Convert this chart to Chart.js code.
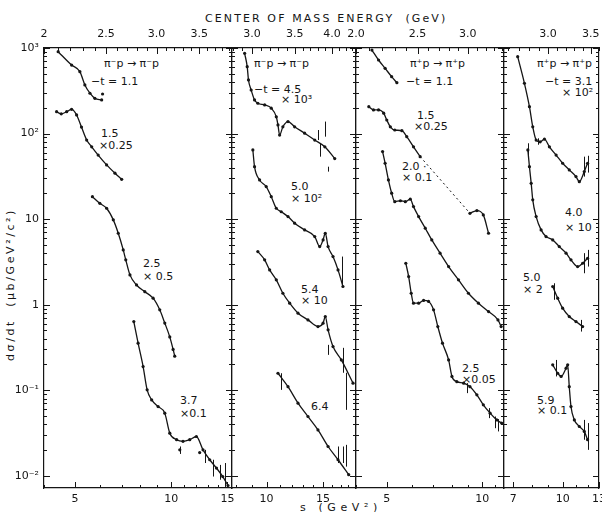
<!DOCTYPE html>
<html>
<head>
<meta charset="utf-8">
<script src="https://cdn.jsdelivr.net/npm/chart.js@4.4.1/dist/chart.umd.min.js"></script>
<style>
  html, body { margin: 0; padding: 0; background: #fff; overflow: hidden; }
  #wrap { position: relative; width: 602px; height: 512px; overflow: hidden;
          font-family: "DejaVu Sans", sans-serif; color: #151515; }
  #wrap canvas { position: absolute; left: 0; top: 0; }
  .lbl { position: absolute; font-size: 11px; line-height: 11px; white-space: nowrap; }
  .ttl { position: absolute; font-size: 11px; white-space: nowrap; }
</style>
</head>
<body>
<div id="wrap">
  <div class="ttl" style="left:205px; top:12px; letter-spacing:2.1px;">CENTER OF MASS ENERGY &nbsp;(GeV)</div>
  <div class="ttl" style="left:300px; top:501px; letter-spacing:4.6px;">s (GeV²)</div>
  <div class="ttl" style="left:-80px; top:278px; width:180px; text-align:center; letter-spacing:2.6px; transform:rotate(-90deg);">dσ/dt &nbsp;(μb/GeV²/c²)</div>

  <!-- panel 1 -->
  <div class="lbl" style="left:104px; top:58px;">π⁻p → π⁻p</div>
  <div class="lbl" style="left:91px; top:76px;">−t = 1.1</div>
  <div class="lbl" style="left:101px; top:128px;">1.5</div>
  <div class="lbl" style="left:99px; top:140px;">×0.25</div>
  <div class="lbl" style="left:143px; top:258px;">2.5</div>
  <div class="lbl" style="left:143px; top:271px;">× 0.5</div>
  <div class="lbl" style="left:180px; top:395px;">3.7</div>
  <div class="lbl" style="left:180px; top:408px;">×0.1</div>
  <!-- panel 2 -->
  <div class="lbl" style="left:254px; top:58px;">π⁻p → π⁻p</div>
  <div class="lbl" style="left:254px; top:84px;">−t = 4.5</div>
  <div class="lbl" style="left:281px; top:94px;">× 10³</div>
  <div class="lbl" style="left:291px; top:181px;">5.0</div>
  <div class="lbl" style="left:291px; top:193px;">× 10²</div>
  <div class="lbl" style="left:301px; top:284px;">5.4</div>
  <div class="lbl" style="left:301px; top:295px;">× 10</div>
  <div class="lbl" style="left:311px; top:401px;">6.4</div>
  <!-- panel 3 -->
  <div class="lbl" style="left:410px; top:58px;">π⁺p → π⁺p</div>
  <div class="lbl" style="left:406px; top:76px;">−t = 1.1</div>
  <div class="lbl" style="left:417px; top:110px;">1.5</div>
  <div class="lbl" style="left:414px; top:121px;">×0.25</div>
  <div class="lbl" style="left:402px; top:161px;">2.0 ·</div>
  <div class="lbl" style="left:402px; top:172px;">× 0.1</div>
  <div class="lbl" style="left:462px; top:363px;">2.5</div>
  <div class="lbl" style="left:462px; top:374px;">×0.05</div>
  <!-- panel 4 -->
  <div class="lbl" style="left:537px; top:58px;">π⁺p → π⁺p</div>
  <div class="lbl" style="left:545px; top:76px;">−t = 3.1</div>
  <div class="lbl" style="left:562px; top:87px;">× 10²</div>
  <div class="lbl" style="left:565px; top:207px;">4.0</div>
  <div class="lbl" style="left:565px; top:222px;">× 10</div>
  <div class="lbl" style="left:523px; top:272px;">5.0</div>
  <div class="lbl" style="left:523px; top:284px;">× 2</div>
  <div class="lbl" style="left:537px; top:395px;">5.9</div>
  <div class="lbl" style="left:537px; top:405px;">× 0.1</div>
</div>
<script>
// ---- valeurs : s (GeV^2) et dσ/dt (µb/GeV^2) ----

// pi- p -> pi- p, premier panneau
const t11S = [4.43, 4.88, 5.18, 5.37, 5.57, 5.77, 6.06];
const t11Y = [906, 632, 529, 370, 296, 258, 247];
const t15S = [4.38, 4.53, 4.71, 4.88, 5.06, 5.24, 5.44, 5.64, 5.91, 6.28, 6.67, 7.0];
const t15Y = [180, 170, 180, 192, 165, 119, 84, 70, 56, 43, 34.4, 29.2];
const t25S = [5.67, 5.98, 6.28, 6.59, 6.83, 7.08, 7.21, 7.43, 7.79, 8.27, 8.78, 9.21, 9.55, 9.90, 10.14, 10.26];
const t25Y = [18.3, 15.3, 13.4, 9.8, 6.84, 4.37, 3.34, 2.23, 1.70, 1.42, 1.19, 0.87, 0.61, 0.42, 0.30, 0.25];
const t37S = [7.64, 7.88, 8.17, 8.41, 8.69, 9.10, 9.55, 9.90, 10.4, 10.89, 11.43, 11.99, 12.58, 13.2, 13.86, 14.5, 15.06];
const t37Y = [0.635, 0.355, 0.189, 0.101, 0.077, 0.0645, 0.054, 0.0315, 0.0264, 0.0253, 0.0264, 0.0288, 0.0201, 0.0154, 0.0123, 0.0098, 0.0077];
const p1ExtraS = [6.1, 10.64, 12.28];
const p1ExtraY = [290, 0.0201, 0.0187];
const p1Err = [[12.73, 0.0141, 0.0201], [13.52, 0.0098, 0.0154], [14.19, 0.009, 0.0134], [14.71, 0.0074, 0.0141], [10.64, 0.018, 0.022]];

// pi- p -> pi- p, deuxième panneau
const a45S = [8.54, 8.70, 8.78, 8.95, 9.17, 9.39, 9.86, 10.34, 10.72, 10.85, 10.98, 11.24, 11.66, 12.23, 13.14, 14.13, 15.19, 16.31];
const a45Y = [867, 605, 423, 323, 247, 226, 216, 198, 157, 126, 96, 120, 138, 120, 101, 84, 70, 51];
const b50S = [9.06, 9.17, 9.51, 9.97, 10.34, 10.72, 11.11, 11.66, 12.23, 13.14, 14.13, 14.64, 15.0, 15.24, 15.55, 16.11, 16.7, 17.3];
const b50Y = [64.3, 41, 28.7, 24, 18.3, 13.4, 12.2, 10.7, 8.96, 7.48, 6.25, 4.77, 5.71, 6.84, 4.77, 3.65, 2.55, 1.63];
const c54S = [9.39, 9.86, 10.22, 10.72, 11.24, 11.80, 12.53, 13.46, 14.46, 15.0, 15.24, 15.55, 16.11, 17.1, 18.6];
const c54Y = [4.17, 3.34, 2.55, 1.95, 1.36, 1.04, 0.796, 0.664, 0.555, 0.608, 0.726, 0.508, 0.324, 0.226, 0.121];
const d64S = [10.85, 11.66, 12.53, 13.46, 14.46, 15.55, 16.7, 18.03];
const d64Y = [0.158, 0.110, 0.0706, 0.0493, 0.0344, 0.0220, 0.0154, 0.0103];
const p2Err = [[14.46, 84, 110], [15.19, 92, 138], [15.55, 35.9, 41], [14.64, 53.7, 77], [17.2, 1.63, 3.65],
               [17.3, 0.16, 0.313], [17.7, 0.059, 0.16], [15.55, 0.259, 0.339], [11.1, 0.101, 0.158],
               [16.7, 0.0141, 0.022], [17.7, 0.0128, 0.023], [17.3, 0.0141, 0.022]];

// pi+ p -> pi+ p, troisième panneau
const e11S = [4.49, 4.71, 4.94, 5.18, 5.38];
const e11Y = [946, 724, 579, 462, 393];
const f15S = [4.39, 4.54, 4.71, 4.89, 5.0, 5.13, 5.30, 5.58, 5.78, 6.07, 6.37];
const f15Y = [206, 189, 189, 173, 144, 120, 110, 108, 92, 70, 53.7];
const f15DashS = [6.37, 9.14];
const f15DashY = [53.7, 11.7];
const f15bS = [9.14, 9.61, 10.07, 10.46];
const f15bY = [11.7, 12.6, 11.2, 6.84];
const g20S = [4.85, 4.94, 5.06, 5.18, 5.30, 5.52, 5.72, 5.93, 6.07, 6.30, 6.61, 6.93, 7.36, 7.83, 8.41, 9.04, 9.72, 10.46, 11.2, 11.46];
const g20Y = [61.5, 45, 28.7, 20.1, 16.0, 16.4, 16.0, 17.1, 14.0, 10.7, 7.83, 5.71, 4.0, 2.79, 1.95, 1.36, 1.04, 0.83, 0.664, 0.555];
const h25S = [5.74, 5.86, 5.97, 6.07, 6.30, 6.53, 6.77, 7.02, 7.24, 7.49, 7.83, 8.02, 8.31, 8.73, 9.14, 9.61, 10.07, 10.58, 11.1, 11.5];
const h25Y = [3.05, 2.13, 1.36, 1.04, 1.04, 1.12, 1.09, 0.87, 0.555, 0.355, 0.226, 0.145, 0.126, 0.121, 0.110, 0.0883, 0.0675, 0.054, 0.045, 0.0413];
const p3Err = [[10.97, 0.036, 0.0493], [11.2, 0.033, 0.046], [10.46, 0.0472, 0.0618], [8.93, 0.0925, 0.121]];

// pi+ p -> pi+ p, quatrième panneau
const i31S = [7.23, 7.59, 7.87, 8.06, 8.26, 8.50, 8.77, 9.09, 9.54, 10.0, 10.49, 11.01, 11.28, 11.69, 11.97];
const i31Y = [791, 387, 206, 120, 84, 80, 86, 70, 56, 45, 37.6, 31.4, 27.4, 35.9, 45];
const j40S = [7.78, 7.87, 7.97, 8.06, 8.26, 8.56, 8.87, 9.31, 9.76, 10.25, 10.62, 11.14, 11.55, 11.97];
const j40Y = [64.3, 41, 26.2, 16.8, 10.7, 7.48, 6.25, 5.71, 4.77, 4.0, 3.34, 2.79, 3.05, 3.49];
const k50S = [9.31, 9.65, 10.0, 10.49, 11.01, 11.55];
const k50Y = [1.63, 1.19, 0.91, 0.726, 0.635, 0.555];
const l59S = [9.31, 9.65, 9.89, 10.25, 10.37, 10.49, 10.62, 10.88, 11.28, 11.69, 11.97];
const l59Y = [0.198, 0.158, 0.145, 0.181, 0.198, 0.110, 0.0645, 0.045, 0.0377, 0.033, 0.0264];
const p4Err = [[11.69, 31.4, 53.7], [11.97, 35, 55], [8.35, 74, 88], [7.78, 53.7, 77], [11.69, 2.33, 4.0],
               [11.97, 2.79, 4.37], [9.42, 1.14, 1.78], [11.4, 0.485, 0.664], [9.54, 0.145, 0.226],
               [11.69, 0.0264, 0.045], [11.97, 0.0201, 0.0413]];

// ---- axes ----
const yMajor = [0.01, 0.1, 1, 10, 100, 1000];
const yMajorLabels = ['10⁻²', '10⁻¹', '1', '10', '10²', '10³'];
const yMinorMult = [2, 3, 4, 5, 6, 7, 8, 9];

const INK = '#151515';
const FONT = '"DejaVu Sans", sans-serif';
const Y_MIN = 0.0072, Y_MAX = 1000;

const panels = [
    { left: 44, right: 232, sMin: 4, sMax: 15.5, yLabels: true,
      sTicks: [4, 5, 6, 7, 8, 9, 10, 11, 12, 13, 14, 15], sLabels: [5, 10, 15],
      eLabels: [2, 2.5, 3, 3.5], eText: ['2', '2.5', '3.0', '3.5'],
      curves: [[t11S, t11Y], [t15S, t15Y], [t25S, t25Y], [t37S, t37Y]],
      extra: [p1ExtraS, p1ExtraY], err: p1Err },
    { left: 232, right: 356, sMin: 7.8, sMax: 19.0, yLabels: false,
      sTicks: [8, 9, 10, 11, 12, 13, 14, 15, 16, 17, 18, 19], sLabels: [10, 15],
      eLabels: [3, 3.5, 4], eText: ['3.0', '3.5', '4.0'],
      curves: [[a45S, a45Y], [b50S, b50Y], [c54S, c54Y], [d64S, d64Y]],
      err: p2Err },
    { left: 356, right: 504, sMin: 4, sMax: 11.7, yLabels: false,
      sTicks: [4, 5, 6, 7, 8, 9, 10, 11], sLabels: [5, 10],
      eLabels: [2, 2.5, 3], eText: ['2.0', '2.5', '3.0'],
      curves: [[e11S, e11Y], [f15S, f15Y], [f15DashS, f15DashY, true], [f15bS, f15bY], [g20S, g20Y], [h25S, h25Y]],
      err: p3Err },
    { left: 504, right: 599, sMin: 6.55, sMax: 13.0, yLabels: false,
      sTicks: [7, 8, 9, 10, 11, 12, 13], sLabels: [7, 10, 13],
      eLabels: [3, 3.5], eText: ['3.0', '3.5'],
      curves: [[i31S, i31Y], [j40S, j40Y], [k50S, k50Y], [l59S, l59Y]],
      err: p4Err }
];

const near = (a, b) => Math.abs(a - b) < 1e-6 * Math.max(1, Math.abs(b));

function yTickList() {
    const out = [];
    yMajor.forEach(d => {
        out.push({ value: d, major: true });
        if (d < 1000) yMinorMult.forEach(m => out.push({ value: d * m, major: false }));
    });
    return out.filter(t => t.value >= Y_MIN && t.value <= Y_MAX);
}

// petits traits vers l'intérieur sur les quatre côtés
const inwardTicks = {
    id: 'inwardTicks',
    afterDraw(chart) {
        const { ctx, chartArea: a } = chart;
        ctx.save();
        ctx.strokeStyle = INK;
        ctx.lineWidth = 1;
        ctx.beginPath();
        ['x', 'xTop', 'y', 'yR'].forEach(id => {
            const sc = chart.scales[id];
            sc.ticks.forEach(t => {
                const p = Math.round(sc.getPixelForValue(t.value)) + 0.5;
                const len = t.major ? 6 : 3;
                if (id === 'x') { ctx.moveTo(p, a.bottom); ctx.lineTo(p, a.bottom - len); }
                if (id === 'xTop') { ctx.moveTo(p, a.top); ctx.lineTo(p, a.top + len); }
                if (id === 'y') { ctx.moveTo(a.left, p); ctx.lineTo(a.left + len, p); }
                if (id === 'yR') { ctx.moveTo(a.right, p); ctx.lineTo(a.right - len, p); }
            });
        });
        ctx.stroke();
        ctx.restore();
    }
};

// barres d'erreur verticales
const errBars = {
    id: 'errBars',
    afterDatasetsDraw(chart, args, opts) {
        const { ctx, chartArea: a } = chart;
        const sx = chart.scales.x, sy = chart.scales.y;
        ctx.save();
        ctx.beginPath();
        ctx.rect(a.left, a.top, a.right - a.left, a.bottom - a.top);
        ctx.clip();
        ctx.strokeStyle = INK;
        ctx.lineWidth = 1;
        ctx.beginPath();
        (opts.items || []).forEach(([s, lo, hi]) => {
            const x = Math.round(sx.getPixelForValue(s)) + 0.5;
            ctx.moveTo(x, sy.getPixelForValue(lo));
            ctx.lineTo(x, sy.getPixelForValue(hi));
        });
        ctx.stroke();
        ctx.restore();
    }
};

function makePanel(cfg) {
    const canvas = document.createElement('canvas');
    canvas.width = 640;
    canvas.height = 512;
    document.getElementById('wrap').appendChild(canvas);

    const yW = cfg.yLabels ? 44 : 14;
    const eMin = Math.sqrt(cfg.sMin), eMax = Math.sqrt(cfg.sMax);
    const eTicks = [];
    for (let k = Math.ceil(eMin * 10 - 1e-9); k <= Math.floor(eMax * 10 + 1e-9); k++) eTicks.push(k / 10);

    const datasets = cfg.curves.map(([s, v, dashed]) => ({
        data: s.map((x, i) => ({ x: x, y: v[i] })),
        showLine: true,
        borderColor: INK,
        backgroundColor: INK,
        borderWidth: dashed ? 1 : 1.3,
        borderDash: dashed ? [2, 3] : [],
        pointRadius: dashed ? 0 : 1.6,
        pointBorderWidth: 0,
        cubicInterpolationMode: 'monotone'
    }));
    if (cfg.extra) {
        datasets.push({
            data: cfg.extra[0].map((x, i) => ({ x: x, y: cfg.extra[1][i] })),
            showLine: false,
            backgroundColor: INK,
            pointRadius: 1.6,
            pointBorderWidth: 0
        });
    }

    const tickFont = { size: 11, family: FONT };

    new Chart(canvas, {
        type: 'scatter',
        data: { datasets: datasets },
        plugins: [inwardTicks, errBars],
        options: {
            responsive: false,
            devicePixelRatio: 1,
            animation: false,
            layout: { padding: { left: cfg.left - yW, right: 640 - cfg.right - 14, top: 28, bottom: 4 } },
            plugins: {
                legend: { display: false },
                tooltip: { enabled: false },
                errBars: { items: cfg.err }
            },
            scales: {
                x: {
                    type: 'logarithmic', position: 'bottom', min: cfg.sMin, max: cfg.sMax,
                    grid: { display: false, drawTicks: false },
                    border: { color: INK, width: 1.2 },
                    afterBuildTicks: sc => {
                        sc.ticks = cfg.sTicks.filter(v => v >= cfg.sMin && v <= cfg.sMax)
                            .map(v => ({ value: v, major: cfg.sLabels.includes(v) }));
                    },
                    afterFit: sc => { sc.height = 20; },
                    ticks: {
                        autoSkip: false, maxRotation: 0, padding: 5, color: INK, font: tickFont,
                        callback: v => cfg.sLabels.includes(v) ? String(v) : ''
                    }
                },
                xTop: {
                    type: 'logarithmic', position: 'top', min: eMin, max: eMax,
                    grid: { display: false, drawTicks: false },
                    border: { color: INK, width: 1.2 },
                    afterBuildTicks: sc => {
                        sc.ticks = eTicks.map(v => ({ value: v, major: cfg.eLabels.some(e => near(e, v)) }));
                    },
                    afterFit: sc => { sc.height = 20; },
                    ticks: {
                        autoSkip: false, maxRotation: 0, padding: 7, color: INK, font: tickFont,
                        callback: v => {
                            const i = cfg.eLabels.findIndex(e => near(e, v));
                            return i >= 0 ? cfg.eText[i] : '';
                        }
                    }
                },
                y: {
                    type: 'logarithmic', position: 'left', min: Y_MIN, max: Y_MAX,
                    grid: { display: false, drawTicks: false },
                    border: { color: INK, width: 1.2 },
                    afterBuildTicks: sc => { sc.ticks = yTickList(); },
                    afterFit: sc => { sc.width = yW; },
                    ticks: {
                        display: cfg.yLabels, autoSkip: false, padding: 5, color: INK, font: tickFont,
                        callback: v => {
                            const i = yMajor.findIndex(d => near(d, v));
                            return i >= 0 ? yMajorLabels[i] : '';
                        }
                    }
                },
                yR: {
                    type: 'logarithmic', position: 'right', min: Y_MIN, max: Y_MAX,
                    grid: { display: false, drawTicks: false },
                    border: { color: INK, width: 1.2 },
                    afterBuildTicks: sc => { sc.ticks = yTickList(); },
                    afterFit: sc => { sc.width = 14; },
                    ticks: { display: false }
                }
            }
        }
    });
}

panels.forEach(makePanel);
</script>
</body>
</html>
